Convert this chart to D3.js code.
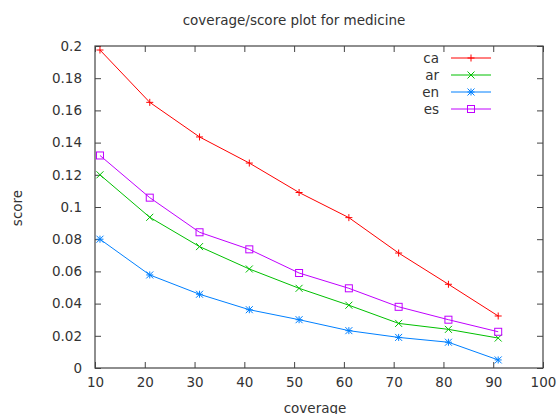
<!DOCTYPE html>
<html>
<head>
<meta charset="utf-8">
<script src="https://cdn.jsdelivr.net/npm/d3@7"></script>
<style>
  body { margin: 0; background: #fff; }
  svg text { font-family: "DejaVu Sans", sans-serif; fill: #333; }
</style>
</head>
<body>
<div id="chart"></div>
<script>
const coverage = [11, 21, 31, 41, 51, 61, 71, 81, 91];
const ca = [0.1975, 0.165, 0.1435, 0.1273, 0.109, 0.0934, 0.0714, 0.052, 0.0323];
const ar = [0.120, 0.0936, 0.0754, 0.0615, 0.0495, 0.039, 0.0277, 0.024, 0.0186];
const en = [0.080, 0.0578, 0.0458, 0.0362, 0.030, 0.0232, 0.019, 0.016, 0.005];
const es = [0.132, 0.1058, 0.0843, 0.0737, 0.059, 0.0495, 0.038, 0.030, 0.0225];
const seriesNames = ["ca", "ar", "en", "es"];
const xTicks = [10, 20, 30, 40, 50, 60, 70, 80, 90, 100];
const yTicks = [0, 0.02, 0.04, 0.06, 0.08, 0.1, 0.12, 0.14, 0.16, 0.18, 0.2];

var width = 557, height = 414;
var margin = {left: 95, right: 14, top: 46, bottom: 46};
var fontSize = "13.5px";

var series = [
    {name: "ca", values: ca, color: "#ff0000", marker: "plus"},
    {name: "ar", values: ar, color: "#00c000", marker: "cross"},
    {name: "en", values: en, color: "#0080ff", marker: "star"},
    {name: "es", values: es, color: "#c000ff", marker: "box"}
];

var svg = d3.select("#chart").append("svg")
    .attr("width", width)
    .attr("height", height);

var x = d3.scaleLinear().domain([10, 100]).range([margin.left, width - margin.right]);
var y = d3.scaleLinear().domain([0, 0.2]).range([height - margin.bottom, margin.top]);

// inward ticks on all four sides, like gnuplot
svg.append("g")
    .attr("transform", "translate(0," + (height - margin.bottom) + ")")
    .call(d3.axisBottom(x).tickValues(xTicks).tickSizeInner(-6).tickSizeOuter(0).tickPadding(9).tickFormat(d3.format("d")));
svg.append("g")
    .attr("transform", "translate(0," + margin.top + ")")
    .call(d3.axisTop(x).tickValues(xTicks).tickSizeInner(-6).tickSizeOuter(0).tickFormat(""));
svg.append("g")
    .attr("transform", "translate(" + margin.left + ",0)")
    .call(d3.axisLeft(y).tickValues(yTicks).tickSizeInner(-6).tickSizeOuter(0).tickPadding(13).tickFormat(d => d3.format("")(+d.toFixed(2))));
svg.append("g")
    .attr("transform", "translate(" + (width - margin.right) + ",0)")
    .call(d3.axisRight(y).tickValues(yTicks).tickSizeInner(-6).tickSizeOuter(0).tickFormat(""));

svg.selectAll(".domain").remove();
svg.selectAll(".tick line").attr("stroke", "#444");
svg.selectAll(".tick text").style("font-size", fontSize).style("fill", "#333");

svg.append("rect")
    .attr("x", margin.left).attr("y", margin.top)
    .attr("width", width - margin.left - margin.right)
    .attr("height", height - margin.top - margin.bottom)
    .attr("fill", "none").attr("stroke", "#444").attr("stroke-width", 1.2);

function drawMarker(g, m, cx, cy, color) {
    var s = 3.5;
    if (m === "plus" || m === "star") {
        g.append("path").attr("d", "M" + (cx - s) + "," + cy + "H" + (cx + s) + "M" + cx + "," + (cy - s) + "V" + (cy + s))
            .attr("stroke", color).attr("fill", "none");
    }
    if (m === "cross" || m === "star") {
        g.append("path").attr("d", "M" + (cx - s) + "," + (cy - s) + "L" + (cx + s) + "," + (cy + s) + "M" + (cx - s) + "," + (cy + s) + "L" + (cx + s) + "," + (cy - s))
            .attr("stroke", color).attr("fill", "none");
    }
    if (m === "box") {
        g.append("rect").attr("x", cx - s).attr("y", cy - s).attr("width", 2 * s).attr("height", 2 * s)
            .attr("stroke", color).attr("fill", "none");
    }
}

var line = d3.line().x(d => x(d[0])).y(d => y(d[1]));

series.forEach(function (s, i) {
    var pts = coverage.map((c, j) => [c, s.values[j]]);
    var g = svg.append("g");
    g.append("path").datum(pts).attr("d", line)
        .attr("fill", "none").attr("stroke", s.color).attr("stroke-width", 1);
    pts.forEach(p => drawMarker(g, s.marker, x(p[0]), y(p[1]), s.color));

    // legend entry
    var ly = 58 + i * 17;
    svg.append("text").attr("x", 439).attr("y", ly).attr("dy", "0.35em")
        .attr("text-anchor", "end").style("font-size", fontSize).text(seriesNames[i]);
    svg.append("line").attr("x1", 451).attr("x2", 491).attr("y1", ly).attr("y2", ly)
        .attr("stroke", s.color);
    drawMarker(svg, s.marker, 471, ly, s.color);
});

svg.append("text").attr("x", 294).attr("y", 20).attr("dy", "0.35em")
    .attr("text-anchor", "middle").style("font-size", fontSize)
    .text("coverage/score plot for medicine");

svg.append("text").attr("x", 315).attr("y", 408).attr("dy", "0.35em")
    .attr("text-anchor", "middle").style("font-size", fontSize).text("coverage");

svg.append("text").attr("transform", "translate(17,208) rotate(-90)").attr("dy", "0.35em")
    .attr("text-anchor", "middle").style("font-size", fontSize).text("score");
</script>
</body>
</html>
